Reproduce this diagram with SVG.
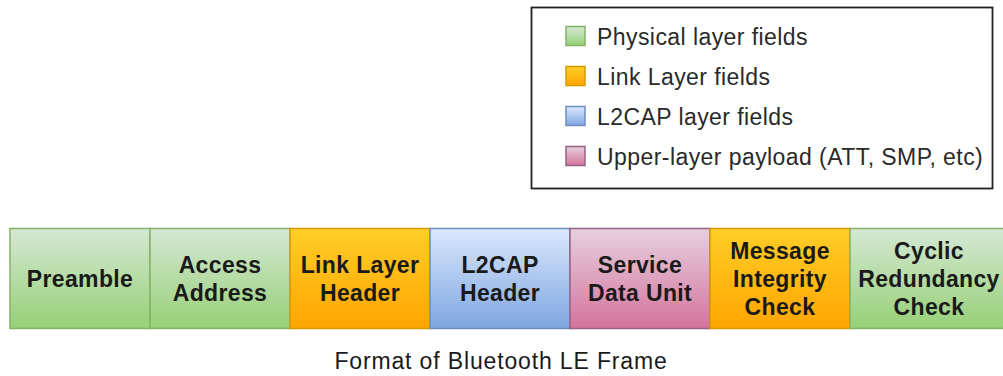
<svg xmlns="http://www.w3.org/2000/svg" width="1003" height="376" viewBox="0 0 1003 376">
  <defs>
    <linearGradient id="gGreen" x1="0" y1="0" x2="0" y2="1">
      <stop offset="0" stop-color="#d5e8d4"/>
      <stop offset="1" stop-color="#97d077"/>
    </linearGradient>
    <linearGradient id="gOrange" x1="0" y1="0" x2="0" y2="1">
      <stop offset="0" stop-color="#ffcd28"/>
      <stop offset="1" stop-color="#ffa500"/>
    </linearGradient>
    <linearGradient id="gBlue" x1="0" y1="0" x2="0" y2="1">
      <stop offset="0" stop-color="#dae8fc"/>
      <stop offset="1" stop-color="#7ea6e0"/>
    </linearGradient>
    <linearGradient id="gPink" x1="0" y1="0" x2="0" y2="1">
      <stop offset="0" stop-color="#e6d0de"/>
      <stop offset="1" stop-color="#d5739d"/>
    </linearGradient>
  </defs>
  <style>
    .green { fill: url(#gGreen); stroke: #82b366; stroke-width: 1.5; }
    .orange { fill: url(#gOrange); stroke: #d79b00; stroke-width: 1.5; }
    .blue { fill: url(#gBlue); stroke: #6c8ebf; stroke-width: 1.5; }
    .pink { fill: url(#gPink); stroke: #996185; stroke-width: 1.5; }
    .lbl { font-family: "Liberation Sans", Arial, sans-serif; font-size: 23px; font-weight: bold; fill: #1a1a1a; text-anchor: middle; letter-spacing: 0.35px; }
    .leg { font-family: "Liberation Sans", Arial, sans-serif; font-size: 23px; fill: #2a2a2a; letter-spacing: 0.43px; }
    .title { font-family: "Liberation Sans", Arial, sans-serif; font-size: 23px; fill: #1a1a1a; text-anchor: middle; letter-spacing: 0.85px; }
  </style>

  <g id="legend">
    <rect x="531.5" y="7.5" width="461" height="181" fill="#ffffff" stroke="#222222" stroke-width="1.8"/>
    <rect class="green" x="566" y="26.5" width="19" height="19"/>
    <text class="leg" x="597" y="45">Physical layer fields</text>
    <rect class="orange" x="566" y="66.5" width="19" height="19"/>
    <text class="leg" x="597" y="85">Link Layer fields</text>
    <rect class="blue" x="566" y="106.5" width="19" height="19"/>
    <text class="leg" x="597" y="125">L2CAP layer fields</text>
    <rect class="pink" x="566" y="146.5" width="19" height="19"/>
    <text class="leg" x="597" y="165">Upper-layer payload (ATT, SMP, etc)</text>
  </g>

  <g id="preamble">
    <rect class="green" x="10" y="228.5" width="140" height="100"/>
    <text class="lbl" x="80" y="286.5">Preamble</text>
  </g>
  <g id="access-address">
    <rect class="green" x="150" y="228.5" width="140" height="100"/>
    <text class="lbl" x="220" y="272.5">Access</text>
    <text class="lbl" x="220" y="300.5">Address</text>
  </g>
  <g id="link-layer-header">
    <rect class="orange" x="290" y="228.5" width="140" height="100"/>
    <text class="lbl" x="360" y="272.5">Link Layer</text>
    <text class="lbl" x="360" y="300.5">Header</text>
  </g>
  <g id="l2cap-header">
    <rect class="blue" x="430" y="228.5" width="140" height="100"/>
    <text class="lbl" x="500" y="272.5">L2CAP</text>
    <text class="lbl" x="500" y="300.5">Header</text>
  </g>
  <g id="service-data-unit">
    <rect class="pink" x="570" y="228.5" width="140" height="100"/>
    <text class="lbl" x="640" y="272.5">Service</text>
    <text class="lbl" x="640" y="300.5">Data Unit</text>
  </g>
  <g id="mic">
    <rect class="orange" x="710" y="228.5" width="140" height="100"/>
    <text class="lbl" x="780" y="258.7">Message</text>
    <text class="lbl" x="780" y="286.7">Integrity</text>
    <text class="lbl" x="780" y="314.7">Check</text>
  </g>
  <g id="crc">
    <rect class="green" x="850" y="228.5" width="158" height="100"/>
    <text class="lbl" x="929" y="258.7">Cyclic</text>
    <text class="lbl" x="929" y="286.7">Redundancy</text>
    <text class="lbl" x="929" y="314.7">Check</text>
  </g>

  <g id="connectors"></g>

  <g id="caption">
    <text class="title" x="501" y="369">Format of Bluetooth LE Frame</text>
  </g>
</svg>
